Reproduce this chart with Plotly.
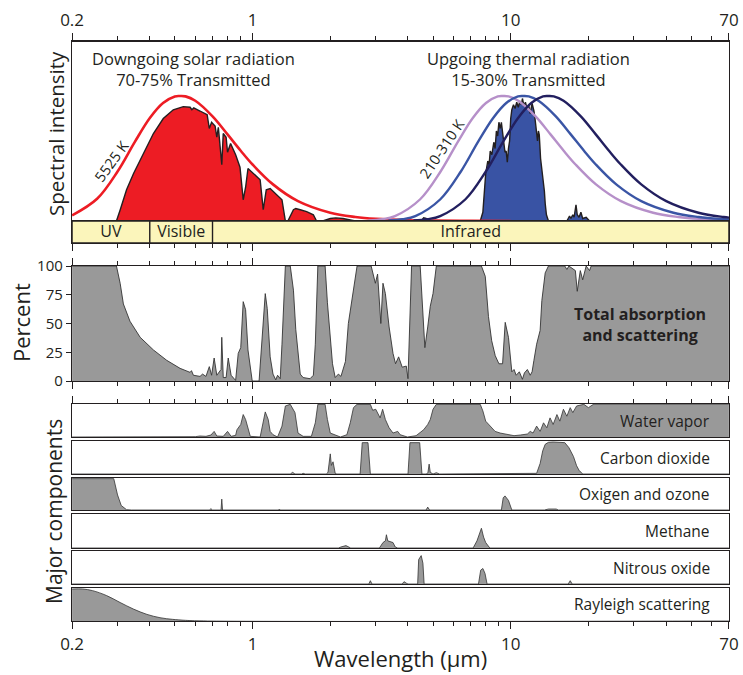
import math
import plotly.graph_objects as go

# ---------------- data ----------------
TICK_MAJOR = [0.2, 1, 10, 70]
TICK_MAJOR_TEXT = ["0.2", "1", "10", "70"]
TICK_MINOR = [0.3, 0.4, 0.5, 0.6, 0.7, 0.8, 0.9, 2, 3, 4, 5, 6, 7, 8, 9, 20, 30, 40, 50, 60]
PCT_TICKS = [0, 25, 50, 75, 100]

band_edges = [0.2, 0.4, 0.7, 70]
band_labels = ["UV", "Visible", "Infrared"]

# 5525 K blackbody (relative intensity, peak = 1)
sun_bb_wl = [0.2, 0.25, 0.3, 0.35, 0.4, 0.45, 0.5, 0.525, 0.55, 0.6, 0.7, 0.8, 0.9, 1.0,
             1.2, 1.5, 2.0, 2.5, 3.0, 4.0, 5.0, 7.0, 10.0]
sun_bb = [0.045, 0.178, 0.396, 0.633, 0.824, 0.944, 0.997, 1.0, 0.997, 0.962, 0.837, 0.693,
          0.562, 0.452, 0.293, 0.159, 0.066, 0.032, 0.017, 0.006, 0.003, 0.001, 0.0]

# 210-310 K blackbody curves (same relative shape, different peak wavelengths)
thermal_bb = [0.004, 0.014, 0.039, 0.174, 0.396, 0.633, 0.824, 0.944, 0.997, 1.0, 0.997,
              0.962, 0.837, 0.693, 0.562, 0.452, 0.293, 0.159, 0.066, 0.032, 0.017, 0.006]
lilac_wl = [2.81, 3.18, 3.56, 4.46, 5.35, 6.24, 7.13, 8.02, 8.91, 9.35, 9.81, 10.70, 12.48,
            14.26, 16.04, 17.83, 21.39, 26.74, 35.62, 44.6, 53.5, 71.3]
blue_wl = [3.36, 3.81, 4.27, 5.34, 6.41, 7.47, 8.55, 9.61, 10.67, 11.2, 11.75, 12.81, 14.95,
           17.08, 19.22, 21.36, 25.63, 32.03, 42.67, 53.4, 64.1, 85.5]
navy_wl = [4.2, 4.76, 5.33, 6.68, 8.01, 9.34, 10.68, 12.01, 13.34, 14.0, 14.69, 16.02, 18.69,
           21.35, 24.02, 26.7, 32.03, 40.04, 53.34, 66.8, 80.1, 106.8]

# transmitted solar radiation (wavelength um, relative intensity)
solar_obs = [(0.2, 0), (0.297, 0), (0.307, 0.088), (0.325, 0.25), (0.346, 0.38), (0.378, 0.54),
             (0.413, 0.70), (0.451, 0.82), (0.493, 0.89), (0.539, 0.915), (0.573, 0.91),
             (0.582, 0.89), (0.592, 0.905), (0.626, 0.88), (0.667, 0.85), (0.680, 0.74),
             (0.694, 0.79), (0.716, 0.76), (0.727, 0.67), (0.737, 0.75), (0.760, 0.45),
             (0.770, 0.70), (0.790, 0.67), (0.800, 0.55), (0.822, 0.62), (0.860, 0.53),
             (0.894, 0.43), (0.920, 0.17), (0.940, 0.27), (0.960, 0.42), (1.01, 0.38),
             (1.07, 0.33), (1.10, 0.09), (1.13, 0.25), (1.17, 0.26), (1.24, 0.21), (1.30, 0.17),
             (1.34, 0), (1.37, 0), (1.44, 0.09), (1.47, 0.10), (1.53, 0.09), (1.62, 0.075),
             (1.72, 0.05), (1.77, 0), (1.87, 0), (2.0, 0.02), (2.1, 0.025), (2.24, 0.02),
             (2.39, 0.008), (2.5, 0)]

# transmitted thermal radiation
thermal_obs = [(2.5, 0), (4.5, 0), (4.6, 0.025), (4.7, 0.02), (4.8, 0), (7.62, 0), (7.8, 0.07),
               (7.9, 0.2), (8.0, 0.38), (8.15, 0.48), (8.25, 0.45), (8.33, 0.56), (8.45, 0.53),
               (8.6, 0.63), (8.7, 0.58), (8.8, 0.72), (8.9, 0.68), (9.0, 0.79), (9.11, 0.74),
               (9.2, 0.79), (9.3, 0.70), (9.4, 0.62), (9.5, 0.55), (9.6, 0.56), (9.7, 0.47),
               (9.8, 0.58), (9.9, 0.64), (10.0, 0.82), (10.1, 0.89), (10.25, 0.93), (10.4, 0.90),
               (10.55, 0.95), (10.7, 0.91), (10.85, 0.96), (11.0, 0.93), (11.1, 0.98),
               (11.25, 0.92), (11.4, 0.95), (11.6, 0.89), (11.75, 0.92), (11.9, 0.86),
               (12.1, 0.94), (12.3, 0.88), (12.45, 0.80), (12.6, 0.70), (12.7, 0.64),
               (12.8, 0.72), (12.9, 0.69), (13.05, 0.50), (13.2, 0.42), (13.35, 0.33),
               (13.5, 0.24), (13.6, 0.14), (13.75, 0.05), (14.0, 0), (16.5, 0), (16.7, 0.02),
               (16.9, 0.04), (17.1, 0.02), (17.4, 0.05), (17.6, 0.03), (17.9, 0.13), (18.1, 0.05),
               (18.4, 0.03), (18.7, 0.07), (19.0, 0.02), (19.6, 0.03), (20.2, 0), (70, 0)]

# total absorption and scattering (percent)
total_abs = [(0.2, 100), (0.297, 100), (0.307, 85), (0.316, 67), (0.335, 52), (0.367, 38),
             (0.413, 27), (0.465, 18), (0.524, 11), (0.573, 7.5), (0.58, 9), (0.59, 5),
             (0.626, 4), (0.64, 6), (0.66, 4), (0.68, 12.5), (0.694, 5), (0.71, 20), (0.727, 5),
             (0.755, 10), (0.76, 38), (0.77, 3), (0.79, 3), (0.805, 20), (0.826, 5), (0.86, 0.5),
             (0.88, 24), (0.90, 29), (0.92, 69), (0.94, 62), (0.96, 27), (0.997, 0), (1.06, 0),
             (1.09, 41), (1.12, 76), (1.14, 63), (1.17, 21), (1.20, 6), (1.23, 1), (1.25, 5),
             (1.28, 2), (1.30, 32), (1.34, 100), (1.40, 100), (1.44, 79), (1.47, 45), (1.53, 6),
             (1.57, 3), (1.67, 2), (1.72, 5), (1.75, 32), (1.79, 100), (1.91, 100), (1.95, 68),
             (2.0, 36), (2.04, 15), (2.09, 3), (2.15, 6), (2.2, 4), (2.29, 17), (2.35, 50),
             (2.46, 82), (2.54, 100), (2.88, 100), (2.92, 94), (2.99, 85), (3.05, 93),
             (3.14, 50), (3.2, 85), (3.27, 76), (3.38, 47), (3.5, 24), (3.58, 15), (3.68, 21),
             (3.8, 12), (3.94, 13), (4.0, 2), (4.07, 62), (4.13, 100), (4.46, 100), (4.57, 62),
             (4.65, 29), (4.77, 47), (4.88, 65), (5.0, 76), (5.15, 100), (7.7, 100), (7.97, 91),
             (8.2, 56), (8.44, 35), (8.71, 22), (9.0, 15), (9.3, 15), (9.52, 51), (9.8, 38),
             (10.1, 8), (10.3, 10), (10.5, 5), (10.8, 8), (11.1, 1.5), (11.3, 7), (11.6, 10),
             (11.9, 5), (12.1, 8), (12.3, 18), (12.6, 32), (13.0, 44), (13.2, 70), (13.6, 94),
             (14.0, 100), (16.2, 100), (16.5, 97), (16.8, 100), (17.8, 96), (18.1, 78),
             (18.6, 96), (19.0, 88), (19.6, 100), (20.2, 96), (20.5, 100), (70, 100)]

water_vapor = [(0.2, 0), (0.55, 0), (0.58, 2), (0.6, 1), (0.626, 3), (0.66, 2), (0.69, 6),
               (0.71, 17), (0.727, 3), (0.77, 2), (0.80, 17), (0.826, 2), (0.86, 5), (0.87, 22),
               (0.90, 38), (0.92, 68), (0.94, 53), (0.98, 2), (1.07, 0), (1.10, 43), (1.12, 76),
               (1.15, 53), (1.17, 17), (1.20, 7), (1.25, 0), (1.30, 33), (1.34, 94), (1.40, 99),
               (1.46, 74), (1.50, 12), (1.57, 2), (1.69, 2), (1.75, 43), (1.79, 99), (1.91, 99),
               (1.95, 53), (2.0, 12), (2.19, 0), (2.32, 7), (2.39, 43), (2.46, 89), (2.54, 99),
               (2.86, 99), (2.92, 81), (3.0, 84), (3.12, 58), (3.19, 84), (3.27, 53), (3.38, 28),
               (3.5, 12), (3.65, 17), (3.73, 7), (3.98, 0), (4.3, 4), (4.6, 22), (4.77, 38),
               (4.88, 53), (5.0, 84), (5.15, 99), (7.62, 99), (7.8, 79), (8.0, 48), (8.33, 33),
               (8.7, 17), (9.1, 12), (9.7, 7), (10.3, 4), (10.9, 6), (11.6, 9), (11.9, 17),
               (12.2, 12), (12.6, 33), (13.0, 17), (13.4, 43), (13.8, 28), (14.2, 58), (14.6, 38),
               (15.1, 68), (15.5, 48), (16.0, 84), (16.5, 63), (17.0, 89), (17.4, 74), (18.0, 94),
               (19.2, 99), (20.0, 89), (21.0, 100), (70, 100)]

carbon_dioxide = [(0.2, 0), (1.40, 0), (1.43, 5), (1.46, 0), (1.55, 0), (1.57, 2), (1.6, 0),
                  (1.93, 0), (1.96, 5), (1.98, 32), (2.0, 61), (2.02, 26), (2.05, 37), (2.09, 2),
                  (2.12, 0), (2.61, 0), (2.66, 95), (2.80, 95), (2.86, 0), (4.0, 0), (4.07, 95),
                  (4.44, 95), (4.53, 0), (4.72, 0), (4.78, 5), (4.83, 30), (4.88, 5), (5.0, 0),
                  (5.15, 4), (5.3, 0), (9.2, 0), (9.35, 2), (9.5, 0), (10.3, 0), (10.4, 2),
                  (10.5, 0), (12.4, 0), (12.6, 2), (13.0, 32), (13.3, 70), (13.6, 90), (14.0, 96),
                  (14.6, 97), (15.5, 96), (16.2, 95), (16.8, 80), (17.5, 53), (18.0, 25),
                  (18.4, 11), (19.0, 0), (70, 0)]

oxygen_ozone = [(0.2, 98), (0.29, 98), (0.30, 47), (0.31, 14), (0.325, 1), (0.34, 0), (0.68, 0),
                (0.69, 4), (0.70, 0), (0.755, 0), (0.76, 34), (0.765, 0), (1.26, 0), (1.27, 3),
                (1.28, 0), (4.7, 0), (4.77, 9), (4.85, 0), (9.2, 0), (9.35, 38), (9.5, 44),
                (9.8, 30), (10.1, 0), (13.5, 0), (14.0, 3), (15.0, 3), (15.3, 0), (70, 0)]

methane = [(0.2, 0), (2.15, 0), (2.2, 3), (2.3, 7), (2.4, 0), (3.1, 0), (3.2, 16), (3.27, 21),
           (3.3, 39), (3.34, 21), (3.5, 16), (3.57, 3), (3.65, 0), (7.15, 0), (7.4, 21),
           (7.55, 37), (7.7, 58), (7.85, 32), (8.0, 16), (8.3, 0), (70, 0)]

nitrous_oxide = [(0.2, 0), (2.82, 0), (2.86, 10), (2.9, 0), (3.8, 0), (3.86, 7), (3.95, 2),
                 (4.0, 0), (4.36, 0), (4.4, 74), (4.5, 86), (4.57, 63), (4.62, 0), (7.5, 0),
                 (7.65, 42), (7.8, 47), (7.95, 32), (8.1, 0), (16.7, 0), (17.0, 10), (17.3, 0),
                 (70, 0)]

rayleigh = [(0.2, 97), (0.22, 97), (0.24, 92), (0.272, 77), (0.307, 56), (0.346, 36), (0.39, 20),
            (0.438, 10), (0.49, 5), (0.55, 2), (0.67, 0), (70, 0)]

components = [("Water vapor", water_vapor), ("Carbon dioxide", carbon_dioxide),
              ("Oxigen and ozone", oxygen_ozone), ("Methane", methane),
              ("Nitrous oxide", nitrous_oxide), ("Rayleigh scattering", rayleigh)]

# ---------------- layout helpers ----------------
W, H = 743, 675
PL, PR, PT, PB = 72, 729, 42, 621          # plot box in pixels
L, R, T, B = PL, W - PR, PT, H - PB
INK = "#231f20"
GRAY = "#999999"
FONT = "Open Sans, Noto Sans, sans-serif"


def px(x):
    return (x - PL) / (PR - PL)


def py(y):
    return (PB - y) / (PB - PT)


def dom(top, bot):
    return [py(bot), py(top)]


XR = [math.log10(0.2) - 0.0004, math.log10(70) + 0.0004]

spec_dom = dom(42, 221)
band_dom = dom(221, 243)
pct_dom = dom(266, 381)
comp_doms = [dom(404, 437), dom(441, 474), dom(478, 510), dom(514, 548), dom(551, 584), dom(588, 621)]


def split(pairs):
    return [p[0] for p in pairs], [p[1] for p in pairs]


def xax(anchor, side="bottom", ticks=False, labels=False, mirror=True, lw=1.3):
    d = dict(type="log", range=XR, domain=[0, 1], anchor=anchor, side=side, showgrid=False,
             zeroline=False, showline=True, linecolor=INK, linewidth=lw, mirror=mirror,
             fixedrange=True, automargin=False)
    if ticks:
        d.update(ticks="outside", tickmode="array", tickvals=TICK_MAJOR, ticktext=TICK_MAJOR_TEXT,
                 ticklen=7, tickwidth=1.2, tickcolor=INK,
                 minor=dict(tickmode="array", tickvals=TICK_MINOR, ticks="outside", ticklen=4,
                            tickwidth=1.0, tickcolor=INK, showgrid=False),
                 showticklabels=labels, tickfont=dict(family=FONT, size=17, color=INK))
    else:
        d.update(ticks="", showticklabels=False)
    return d


def yax(domain, rng, anchor):
    return dict(domain=domain, range=rng, anchor=anchor, showgrid=False, zeroline=False,
                showline=True, linecolor=INK, linewidth=1.3, mirror=True, ticks="",
                showticklabels=False, fixedrange=True, automargin=False)


fig = go.Figure()

# ---- top panel ----
sx, sy = split(solar_obs)
fig.add_trace(go.Scatter(x=sx, y=sy, mode="lines", fill="tozeroy", fillcolor="#ed1c24",
                         line=dict(color=INK, width=1.4), xaxis="x", yaxis="y"))
tx, ty = split(thermal_obs)
fig.add_trace(go.Scatter(x=tx, y=ty, mode="lines", fill="tozeroy", fillcolor="#3953a4",
                         line=dict(color=INK, width=1.4), xaxis="x", yaxis="y"))
fig.add_trace(go.Scatter(x=sun_bb_wl, y=sun_bb, mode="lines",
                         line=dict(color="#ed1c24", width=2.6, shape="spline"), xaxis="x", yaxis="y"))
for wl, col in [(lilac_wl, "#b690c9"), (blue_wl, "#3a55a5"), (navy_wl, "#221f5f")]:
    fig.add_trace(go.Scatter(x=wl, y=thermal_bb, mode="lines",
                             line=dict(color=col, width=2.4, shape="spline"), xaxis="x", yaxis="y"))

# ---- band bar ----
for i, lab in enumerate(band_labels):
    e0, e1 = band_edges[i], band_edges[i + 1]
    fig.add_trace(go.Scatter(x=[e0, e0, e1, e1, e0], y=[0, 1, 1, 0, 0], mode="lines",
                             fill="toself", fillcolor="#fbf5bb", line=dict(color=INK, width=1.3),
                             xaxis="x2", yaxis="y2"))
    fig.add_trace(go.Scatter(x=[math.sqrt(e0 * e1)], y=[0.45], mode="text", text=[lab],
                             textfont=dict(family=FONT, size=16, color=INK), xaxis="x2", yaxis="y2"))

# ---- total absorption ----
ax_, ay_ = split(total_abs)
fig.add_trace(go.Scatter(x=ax_, y=ay_, mode="lines", fill="tozeroy", fillcolor=GRAY,
                         line=dict(color="#333333", width=0.9), xaxis="x3", yaxis="y3"))

# ---- components ----
for k, (name, pairs) in enumerate(components):
    cx, cy = split(pairs)
    shape = "spline" if name.startswith("Rayleigh") else "linear"
    fig.add_trace(go.Scatter(x=cx, y=cy, mode="lines", fill="tozeroy", fillcolor=GRAY,
                             line=dict(color="#333333", width=0.8, shape=shape),
                             xaxis="x%d" % (k + 4), yaxis="y%d" % (k + 4)))

layout = dict(width=W, height=H, margin=dict(l=L, r=R, t=T, b=B, autoexpand=False),
              showlegend=False, paper_bgcolor="white", plot_bgcolor="white",
              font=dict(family=FONT, color=INK))

layout["xaxis"] = xax("y", side="top", ticks=True, labels=True, mirror=True, lw=2.0)
layout["yaxis"] = yax(spec_dom, [0, 179 / 125], "x")
layout["xaxis2"] = xax("y2", side="bottom", ticks=True, labels=False, mirror=True)
layout["yaxis2"] = yax(band_dom, [0, 1], "x2")
layout["xaxis3"] = xax("y3", side="bottom", ticks=True, labels=False, mirror="ticks")
y3 = yax(pct_dom, [0, 100], "x3")
y3.update(ticks="outside", tickmode="array", tickvals=PCT_TICKS, ticklen=5, tickwidth=1.2,
          tickcolor=INK, showticklabels=True, tickfont=dict(family=FONT, size=15, color=INK))
layout["yaxis3"] = y3
layout["yaxis10"] = dict(overlaying="y3", side="right", anchor="x3", range=[0, 100],
                         showgrid=False, zeroline=False, showline=False, ticks="inside",
                         tickmode="array", tickvals=PCT_TICKS[1:-1], ticklen=5, tickwidth=1.2,
                         tickcolor=INK, showticklabels=False, fixedrange=True, automargin=False)
for k in range(6):
    n = k + 4
    if k == 0:
        xa = xax("y%d" % n, side="top", ticks=True, labels=False, mirror=True)
    elif k == 5:
        xa = xax("y%d" % n, side="bottom", ticks=True, labels=True, mirror=True)
    else:
        xa = xax("y%d" % n)
    layout["xaxis%d" % n] = xa
    layout["yaxis%d" % n] = yax(comp_doms[k], [0, 100], "x%d" % n)

ann = []


def note(text, x, y, size, angle=0, xanchor="center", bold=False):
    ann.append(dict(text=("<b>%s</b>" % text) if bold else text, x=px(x), y=py(y), xref="paper",
                    yref="paper", showarrow=False, textangle=angle, xanchor=xanchor,
                    yanchor="middle", font=dict(family=FONT, size=size, color=INK)))


note("Spectral intensity", 56, 134, 20.5, angle=-90)
note("Percent", 21, 323, 22, angle=-90)
note("Major components", 54, 512, 21, angle=-90)
note("Wavelength (μm)", 400, 658, 22)
note("Downgoing solar radiation<br>70-75% Transmitted", 193, 69, 16.5)
note("Upgoing thermal radiation<br>15-30% Transmitted", 528, 69, 16.5)
note("5525 K", 111, 161, 14.5, angle=-54)
note("210-310 K", 441, 149, 14.5, angle=-56)
note("Total absorption<br>and scattering", 640, 324, 16, bold=True)
comp_label_y = [421, 458, 494, 531, 568, 604]
for (name, _), yy in zip(components, comp_label_y):
    note(name, 712, yy, 15.5, xanchor="right")

layout["annotations"] = ann
fig.update_layout(**layout)
# remove the browser's default 8 px page margin so the 743x675 figure fills the window exactly
fig.write_html("out.html", config={"displayModeBar": False},
               post_script="document.body.style.margin='0';document.body.style.overflow='hidden';")
